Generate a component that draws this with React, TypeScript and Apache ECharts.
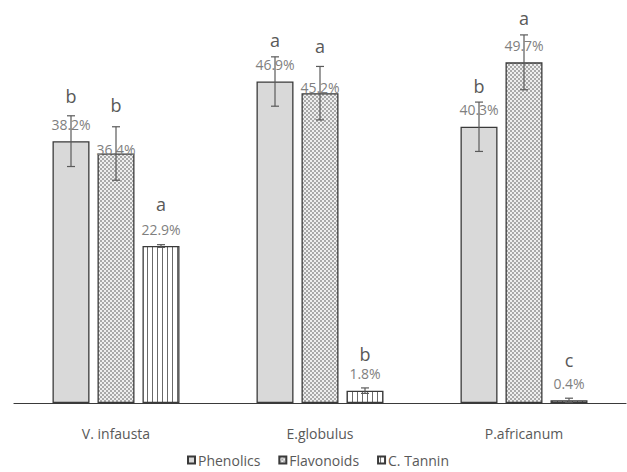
import React, { useEffect, useRef } from "react";
import * as echarts from "echarts";

const categories = ["V. infausta", "E.globulus", "P.africanum"];
const seriesNames = ["Phenolics", "Flavonoids", "C. Tannin"];
const phenolics = [38.2, 46.9, 40.3];
const flavonoids = [36.4, 45.2, 49.7];
const tannin = [22.9, 1.8, 0.4];
const phenolicsErr = [3.7, 3.6, 3.6];
const flavonoidsErr = [3.9, 3.9, 4.0];
const tanninErr = [0.2, 0.4, 0.3];
const phenolicsLetters = ["b", "a", "b"];
const flavonoidsLetters = ["b", "a", "a"];
const tanninLetters = ["a", "b", "c"];

// label styling (px): value-label lift adjustments and letter gap above value label
const valueShift = [
  [0, 0, 0],
  [13, 11, 0],
  [0, 0, 0],
];
const letterGap = [
  [28, 25, 24],
  [44, 41, 27],
  [25, 20, 23],
];

const BAR_W = 37;
const BAR_GAP = 8;

function makePattern(kind: string): HTMLCanvasElement {
  const c = document.createElement("canvas");
  if (kind === "check") {
    c.width = 4;
    c.height = 4;
    const ctx = c.getContext("2d")!;
    ctx.fillStyle = "#efefef";
    ctx.fillRect(0, 0, 4, 4);
    ctx.fillStyle = "#a9a9a9";
    ctx.fillRect(0, 0, 2, 2);
    ctx.fillRect(2, 2, 2, 2);
  } else {
    c.width = 5;
    c.height = 5;
    const ctx = c.getContext("2d")!;
    ctx.fillStyle = "#ffffff";
    ctx.fillRect(0, 0, 5, 5);
    ctx.fillStyle = "#6a6a6a";
    ctx.fillRect(2, 0, 1, 5);
  }
  return c;
}

export default function App() {
  const ref = useRef<HTMLDivElement>(null);
  useEffect(() => {
    document.body.style.margin = "0";
    const chart = echarts.init(ref.current!, null, { renderer: "svg" });
    const values = [phenolics, flavonoids, tannin];
    const errs = [phenolicsErr, flavonoidsErr, tanninErr];
    const letters = [phenolicsLetters, flavonoidsLetters, tanninLetters];
    const fills: any[] = [
      "#d9d9d9",
      { image: makePattern("check"), repeat: "repeat" },
      { image: makePattern("lines"), repeat: "repeat" },
    ];
    const font = "'Open Sans', sans-serif";

    const barSeries = values.map((vals, s) => ({
      name: seriesNames[s],
      type: "bar",
      barWidth: BAR_W,
      barGap: (BAR_GAP / BAR_W) * 100 + "%",
      itemStyle: { color: fills[s], borderColor: "#3a3a3a", borderWidth: 1.3 },
      z: 2,
      data: vals.map((v, i) => {
        const g = letterGap[s][i];
        const L = 2 * (g - 8);
        return {
          value: v,
          label: {
            show: true,
            position: "top",
            distance: 9,
            offset: [0, valueShift[s][i]],
            formatter: "{l|" + letters[s][i] + "}\n{v|" + v.toFixed(1) + "%}",
            rich: {
              l: { fontSize: 18, lineHeight: L, color: "#595959", fontFamily: font },
              v: { fontSize: 14, lineHeight: 16, color: "#7f7f7f", fontFamily: font },
            },
          },
        };
      }),
    }));

    const errSeries = values.map((vals, s) => ({
      name: seriesNames[s] + " err",
      type: "custom",
      z: 5,
      silent: true,
      renderItem: (params: any, api: any) => {
        const cat = api.value(0);
        const v = api.value(1);
        const e = api.value(2);
        const off = (s - 1) * (BAR_W + BAR_GAP);
        const top = api.coord([cat, v + e]);
        const bot = api.coord([cat, v - e]);
        const x = top[0] + off;
        const cap = 4;
        const st = { stroke: "#5a5a5a", lineWidth: 1.2 };
        return {
          type: "group",
          children: [
            { type: "line", shape: { x1: x, y1: top[1], x2: x, y2: bot[1] }, style: st },
            { type: "line", shape: { x1: x - cap, y1: top[1], x2: x + cap, y2: top[1] }, style: st },
            { type: "line", shape: { x1: x - cap, y1: bot[1], x2: x + cap, y2: bot[1] }, style: st },
          ],
        };
      },
      data: vals.map((v, i) => [i, v, errs[s][i]]),
    }));

    chart.setOption({
      animation: false,
      backgroundColor: "#ffffff",
      grid: { left: 14, right: 1, top: 26, bottom: 69 },
      legend: {
        data: seriesNames,
        left: 187,
        top: 453,
        padding: 0,
        itemWidth: 7,
        itemHeight: 7,
        itemGap: 18,
        icon: "rect",
        textStyle: { fontSize: 14, color: "#595959", fontFamily: font, padding: [0, 0, 0, -2] },
      },
      xAxis: {
        type: "category",
        data: categories,
        axisLine: { lineStyle: { color: "#3a3a3a", width: 1.2 } },
        axisTick: { show: false },
        axisLabel: { fontSize: 14, color: "#595959", fontFamily: font, margin: 23 },
      },
      yAxis: {
        type: "value",
        min: 0,
        max: 55,
        show: false,
        splitLine: { show: false },
      },
      series: [...barSeries, ...errSeries],
    });
    return () => chart.dispose();
  }, []);
  return <div ref={ref} style={{ width: 627, height: 472 }} />;
}
